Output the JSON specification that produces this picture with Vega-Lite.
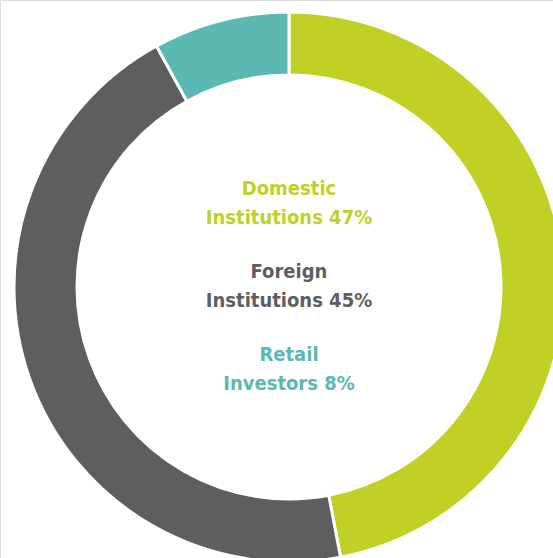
{
  "$schema": "https://vega.github.io/schema/vega-lite/v6.json",
  "width": 578,
  "height": 574,
  "autosize": "none",
  "padding": 0,
  "background": "white",
  "data": {
    "values": [
      {"category": "Domestic Institutions", "share": 47, "rank": 1, "label": "Domestic\nInstitutions 47%"},
      {"category": "Foreign Institutions", "share": 45, "rank": 2, "label": "Foreign\nInstitutions 45%"},
      {"category": "Retail Investors", "share": 8, "rank": 3, "label": "Retail\nInvestors 8%"}
    ]
  },
  "layer": [
    {
      "mark": {"type": "arc", "outerRadius": 275, "innerRadius": 212, "stroke": "white", "strokeWidth": 3},
      "encoding": {
        "theta": {"field": "share", "type": "quantitative", "stack": true},
        "order": {"field": "rank", "type": "quantitative"},
        "color": {
          "field": "category", "type": "nominal",
          "scale": {"domain": ["Domestic Institutions", "Foreign Institutions", "Retail Investors"], "range": ["#C1D024", "#5E5E60", "#5CB8B3"]},
          "legend": null
        }
      }
    },
    {
      "mark": {"type": "text", "font": "DejaVu Sans Condensed", "fontWeight": "bold", "fontSize": 20, "lineBreak": "\n", "lineHeight": 29, "align": "center", "baseline": "alphabetic"},
      "encoding": {
        "text": {"field": "label", "type": "nominal"},
        "y": {
          "field": "category", "type": "nominal",
          "scale": {"type": "point", "padding": 0, "domain": ["Domestic Institutions", "Foreign Institutions", "Retail Investors"], "range": [195, 361]},
          "axis": null
        },
        "color": {"field": "category", "type": "nominal", "legend": null}
      }
    }
  ]
}
